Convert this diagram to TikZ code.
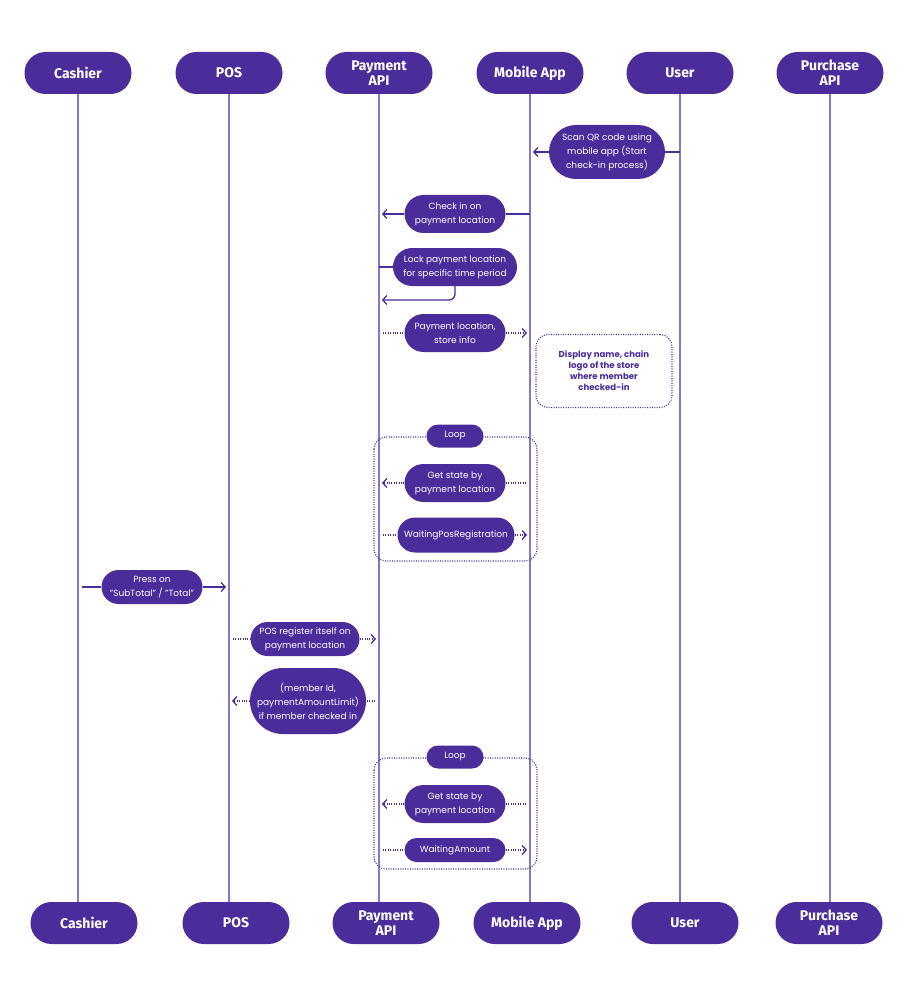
\documentclass[tikz,border=0pt]{standalone}
\usepackage{fontspec}
\setmainfont{Poppins}
\newfontfamily\headfont{Fira Sans}
\usetikzlibrary{arrows.meta,shapes.misc}
\definecolor{brand}{HTML}{4A2D9B}

\tikzset{
	actor/.style={rounded rectangle, fill=brand, text=white, inner sep=0pt, minimum width=107, minimum height=42, align=center, font=\headfont\bfseries\fontsize{14}{15}\selectfont},
	msg/.style={rounded rectangle, fill=brand, text=white, inner sep=0pt, align=center, font=\fontsize{9}{14}\selectfont},
	lifeline/.style={brand, line width=1.3pt},
	call/.style={brand, line width=1.3pt},
	reply/.style={brand, line width=1.3pt, dash pattern=on 1pt off 1.4pt, shorten <=4pt},
	tip/.style={-{Straight Barb[length=4pt,width=9pt]}, shorten >=3pt},
	frame/.style={brand, line width=1.1pt, dash pattern=on 1pt off 1.4pt, rounded corners=12},
	note/.style={draw=brand, line width=1.1pt, dash pattern=on 1pt off 1.4pt, rounded corners=12, minimum width=136, minimum height=73, text=brand, align=center, font=\bfseries\fontsize{8.6}{11}\selectfont},
}

\begin{document}
\begin{tikzpicture}[x=1pt,y=-1pt]
	\useasboundingbox (0,0) rectangle (907,1000);

	% actors, top and bottom, with their lifelines
	\foreach \n/\t/\x/\xb in {cash/Cashier/78/84, pos/POS/229/236, pay/{Payment\\API}/379/386, mob/Mobile App/530/527, user/User/680/685, pur/{Purchase\\API}/830/829}{
		\node[actor] (t\n) at (\x,73) {\t};
		\node[actor] (b\n) at (\xb,923) {\t};
		\draw[lifeline] (t\n) -- (t\n |- b\n.north);
	}

	% check-in
	\node[msg, minimum width=116, minimum height=54] (scan) at (607,152) {Scan QR code using\\mobile app (Start\\check-in process)};
	\draw[call] (tuser |- scan) -- (scan.east);
	\draw[call,tip] (scan.west) -- (tmob |- scan);

	\node[msg, minimum width=101, minimum height=38] (checkin) at (455,214) {Check in on\\payment location};
	\draw[call] (tmob |- checkin) -- (checkin.east);
	\draw[call,tip] (checkin.west) -- (tpay |- checkin);

	\node[msg, minimum width=124, minimum height=38] (lock) at (455,267) {Lock payment location\\for specific time period};
	\coordinate (lockback) at (379,300);
	\draw[call] (tpay |- lock) -- (lock.west);
	\draw[call,tip,rounded corners=6] (lock.south) |- (lockback);

	\node[msg, minimum width=101, minimum height=38] (info) at (455,333) {Payment location,\\store info};
	\draw[reply] (tpay |- info) -- (info.west);
	\draw[reply,tip,shorten <=0pt] (info.east) -- (tmob |- info);

	\node[note] (disp) at (604,371) {Display name, chain\\logo of the store\\where member\\checked-in};

	% first loop
	\draw[frame] (374,437) rectangle (537,561);
	\node[msg, minimum width=57, minimum height=23] (loopa) at (455,436) {Loop};

	\node[msg, minimum width=101, minimum height=38] (statea) at (455,483) {Get state by\\payment location};
	\draw[reply] (tmob |- statea) -- (statea.east);
	\draw[reply,tip,shorten <=0pt] (statea.west) -- (tpay |- statea);

	\node[msg, minimum width=117, minimum height=35] (posreg) at (456,535) {WaitingPosRegistration};
	\draw[reply] (tpay |- posreg) -- (posreg.west);
	\draw[reply,tip,shorten <=0pt] (posreg.east) -- (tmob |- posreg);

	% cashier and POS
	\node[msg, minimum width=101, minimum height=34] (press) at (152,587) {Press on\\"SubTotal" / "Total"};
	\draw[call,shorten <=4pt] (tcash |- press) -- (press.west);
	\draw[call,tip] (press.east) -- (tpos |- press);

	\node[msg, minimum width=109, minimum height=34] (register) at (305,639) {POS register itself on\\payment location};
	\draw[reply] (tpos |- register) -- (register.west);
	\draw[reply,tip,shorten <=0pt] (register.east) -- (tpay |- register);

	\node[msg, minimum width=116, minimum height=66] (limit) at (308,701) {(member Id,\\paymentAmountLimit)\\if member checked in};
	\draw[reply] (tpay |- limit) -- (limit.east);
	\draw[reply,tip,shorten <=0pt] (limit.west) -- (tpos |- limit);

	% second loop
	\draw[frame] (374,758) rectangle (537,869);
	\node[msg, minimum width=57, minimum height=23] (loopb) at (455,757) {Loop};

	\node[msg, minimum width=101, minimum height=38] (stateb) at (455,804) {Get state by\\payment location};
	\draw[reply] (tmob |- stateb) -- (stateb.east);
	\draw[reply,tip,shorten <=0pt] (stateb.west) -- (tpay |- stateb);

	\node[msg, minimum width=101, minimum height=24] (amount) at (455,850) {WaitingAmount};
	\draw[reply] (tpay |- amount) -- (amount.west);
	\draw[reply,tip,shorten <=0pt] (amount.east) -- (tmob |- amount);
\end{tikzpicture}
\end{document}
